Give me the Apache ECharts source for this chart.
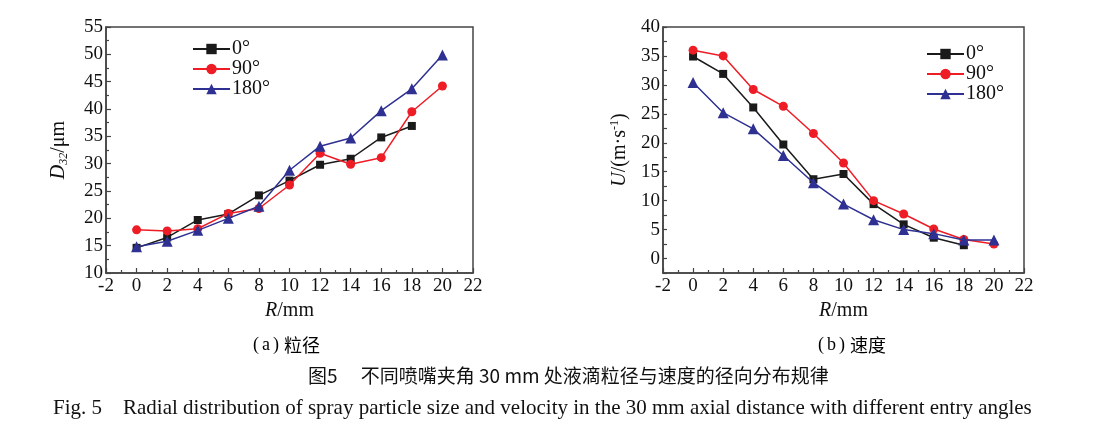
<!DOCTYPE html>
<html><head><meta charset="utf-8">
<script src="https://cdn.jsdelivr.net/npm/echarts@6/dist/echarts.min.js"></script>
<style>html,body{margin:0;padding:0;background:#fff}#c{width:1097px;height:441px}</style>
</head><body><div id="c"></div>
<script>
// Radial positions R (mm)
const radius = [0, 2, 4, 6, 8, 10, 12, 14, 16, 18, 20];
// (a) Sauter mean diameter D32 (μm)
const d32_0 = [14.6, 16.5, 19.7, 20.8, 24.2, 26.9, 29.8, 30.9, 34.8, 36.9];
const d32_90 = [17.9, 17.7, 18.1, 20.9, 21.8, 26.1, 31.9, 29.9, 31.1, 39.5, 44.2];
const d32_180 = [14.8, 15.8, 17.8, 20.0, 22.2, 28.8, 33.2, 34.7, 39.7, 43.7, 49.9];
// (b) velocity U (m/s)
const u_0 = [34.9, 31.9, 26.1, 19.7, 13.7, 14.6, 9.4, 5.9, 3.6, 2.3];
const u_90 = [36.0, 35.0, 29.2, 26.3, 21.6, 16.5, 10.0, 7.7, 5.1, 3.3, 2.5];
const u_180 = [30.4, 25.2, 22.4, 17.8, 13.1, 9.4, 6.7, 5.0, 4.3, 3.2, 3.2];
const seriesNames = ['0°', '90°', '180°'];

const pair = (ys) => ys.map((v, i) => [radius[i], v]);
const colors = ['#1a1a1a', '#ee1c25', '#2e3192'];
const symbols = ['rect', 'circle', 'triangle'];
const symSizes = [8, 9, 11];
const FONT = '"Liberation Serif", "Times New Roman", serif';
const CJK = '"Noto Sans CJK SC", sans-serif';
const TXT = '#111';

const axisLine = { show: true, onZero: false, lineStyle: { color: '#444', width: 1.5 } };
function xAx(gi) {
  return {
    type: 'value', gridIndex: gi, min: -2, max: 22, interval: 2,
    axisLine, splitLine: { show: false },
    axisTick: { inside: true, length: 5, lineStyle: { color: '#444', width: 1.2 } },
    minorTick: { show: true, splitNumber: 2, length: 3, lineStyle: { color: '#444', width: 1.2 } },
    axisLabel: { color: TXT, fontFamily: FONT, fontSize: 19, margin: 4 },
    name: '{i|R}{n|/mm}', nameLocation: 'middle', nameGap: 25,
    nameTextStyle: { rich: {
      i: { fontFamily: FONT, fontSize: 20, fontStyle: 'italic', color: TXT },
      n: { fontFamily: FONT, fontSize: 20, color: TXT } } }
  };
}
const series = [];
function addSeries(lists, gi) {
  lists.forEach((ys, k) => {
    series.push({
      name: seriesNames[k], type: 'line', xAxisIndex: gi, yAxisIndex: gi,
      data: pair(ys), symbol: symbols[k], symbolSize: symSizes[k],
      lineStyle: { color: colors[k], width: 1.5 }, itemStyle: { color: colors[k] },
      showSymbol: true, animation: false, z: 3 + k
    });
  });
}
addSeries([d32_0, d32_90, d32_180], 0);
addSeries([u_0, u_90, u_180], 1);

function legendAt(left, top) {
  return {
    left, top, orient: 'vertical', itemWidth: 37, itemHeight: 13, itemGap: 0,
    textStyle: { fontFamily: FONT, fontSize: 20, color: TXT, lineHeight: 19, padding: [0, 0, 0, -3] },
    data: seriesNames
  };
}

const capRich = {
  q: { fontFamily: FONT, fontSize: 18, color: TXT, padding: [0, 3, 0, 3] },
  l: { fontFamily: FONT, fontSize: 18, color: TXT },
  c: { fontFamily: CJK, fontSize: 18, color: TXT, padding: [0, 0, 0, 2] }
};

const option = {
  backgroundColor: '#fff',
  animation: false,
  grid: [
    { left: 106, top: 27, width: 367, height: 246, show: true, borderColor: '#444', borderWidth: 1.5 },
    { left: 663, top: 27, width: 361, height: 246, show: true, borderColor: '#444', borderWidth: 1.5 }
  ],
  legend: [legendAt(187, 34), legendAt(921, 39)],
  xAxis: [xAx(0), xAx(1)],
  yAxis: [
    {
      type: 'value', gridIndex: 0, min: 10, max: 55, interval: 5,
      axisLine, splitLine: { show: false },
      axisTick: { inside: true, length: 5, lineStyle: { color: '#444', width: 1.2 } },
      minorTick: { show: true, splitNumber: 2, length: 3, lineStyle: { color: '#444', width: 1.2 } },
      axisLabel: { color: TXT, fontFamily: FONT, fontSize: 19, margin: 3 },
      name: '{i|D}{s|32}{n|/μm}', nameLocation: 'middle', nameGap: 34,
      nameTextStyle: { rich: {
        i: { fontFamily: FONT, fontSize: 20, fontStyle: 'italic', color: TXT, lineHeight: 26, verticalAlign: 'middle' },
        s: { fontFamily: FONT, fontSize: 12, fontStyle: 'italic', color: TXT, lineHeight: 26, verticalAlign: 'bottom', padding: [0, 0, 2, 0] },
        n: { fontFamily: FONT, fontSize: 20, color: TXT, lineHeight: 26, verticalAlign: 'middle' } } }
    },
    {
      type: 'value', gridIndex: 1, min: -2.5, max: 40, interval: 2.5,
      axisLine, splitLine: { show: false },
      axisTick: { inside: true, length: 4, lineStyle: { color: '#444', width: 1.2 } },
      axisLabel: { color: TXT, fontFamily: FONT, fontSize: 19, margin: 3,
        formatter: (v) => (Math.abs(v % 5) < 1e-9 ? String(v) : '') },
      name: '{i|U}{n|/(m·s}{s|-1}{n|)}', nameLocation: 'middle', nameGap: 30,
      nameTextStyle: { rich: {
        i: { fontFamily: FONT, fontSize: 20, fontStyle: 'italic', color: TXT, lineHeight: 26, verticalAlign: 'middle' },
        s: { fontFamily: FONT, fontSize: 12, color: TXT, lineHeight: 26, verticalAlign: 'top', padding: [2, 0, 0, 0] },
        n: { fontFamily: FONT, fontSize: 20, color: TXT, lineHeight: 26, verticalAlign: 'middle' } } }
    }
  ],
  series,
  graphic: [
    { type: 'text', x: 250, y: 336, style: { text: '{q|(}{l|a}{q|)}{c|粒径}', rich: capRich } },
    { type: 'text', x: 815, y: 336, style: { text: '{q|(}{l|b}{q|)}{c|速度}', rich: capRich } },
    { type: 'text', x: 308, y: 366, style: { text: '图5　 不同喷嘴夹角 30 mm 处液滴粒径与速度的径向分布规律', font: '19px "Noto Sans CJK SC", sans-serif', fill: TXT } },
    { type: 'text', x: 53, y: 398, style: { text: 'Fig. 5    Radial distribution of spray particle size and velocity in the 30 mm axial distance with different entry angles', font: '21px "Liberation Serif", serif', fill: TXT } }
  ]
};
const chart = echarts.init(document.getElementById('c'), null, { renderer: 'canvas' });
chart.setOption(option);
</script></body></html>
